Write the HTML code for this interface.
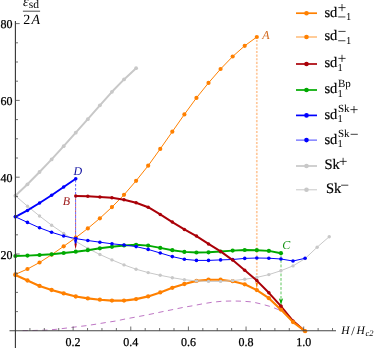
<!DOCTYPE html>
<html><head><meta charset="utf-8">
<style>
html,body{margin:0;padding:0;background:#fff;}
body{width:374px;height:348px;overflow:hidden;font-family:"Liberation Serif",serif;}
svg{display:block;font-family:"Liberation Serif",serif;text-rendering:geometricPrecision;will-change:transform;}
</style></head><body>
<svg width="374" height="348" viewBox="0 0 374 348">

<!-- dotted guide lines -->
<path d="M256.8,40 V283" stroke="#ffc89a" stroke-width="1.7" stroke-dasharray="2.1 1.54" fill="none"/>
<path d="M255.4,281.8 L256.8,283 L258.2,281.8 L256.8,289 Z" fill="#ff8000"/>
<path d="M281,255.5 V299.5" stroke="#4cc04c" stroke-width="0.9" stroke-dasharray="2.8 1.7" fill="none"/>
<path d="M75.6,180 V243" stroke="#4040ff" stroke-width="0.8" stroke-dasharray="2.4 1.6" fill="none"/>
<path d="M75.6,198.4 V243" stroke="#c03030" stroke-width="0.8" stroke-dasharray="1.6 2.4" fill="none"/>
<path d="M19.6,330.6 L32.5,330.5 L47.2,330.1 L56.8,329.25 L67,328.0 L76.6,326.8 L86.8,325.6 L96.5,324.1 L106,322.5 L115.8,321.0 L125.7,318.9 L135,317.2 L144.8,315.35 L154.4,313.4 L164.1,311.3 L173.7,309.4 L183.6,307.3 L193.7,305.6 L202.2,303.9 L212.6,302.2 L222.6,301.2 L232.7,301.0 L242.8,301.2 L252.3,301.95 L261.8,304.1 L271.5,306.85 L280.6,310.5 L287.5,315.9 L296.3,323.3 L305,331.2" fill="none" stroke="#a848b0" stroke-width="0.75" stroke-dasharray="5.3 4.5" stroke-dashoffset="-3"/>
<path d="M280.94,306.1 L293.01,320.8 L305.08,331.2" fill="none" stroke="#aa0008" stroke-width="1.8" stroke-linejoin="round"/>
<g fill="#aa0008"><circle cx="280.94" cy="306.1" r="1.6"/><circle cx="293.01" cy="320.8" r="1.6"/><circle cx="305.08" cy="331.2" r="1.6"/></g>
<path d="M15.4,275.1 L27.47,280.5 L39.54,285.9 L51.61,290 L63.68,293.4 L75.75,296.5 L87.82,298.4 L99.89,299.7 L111.96,300.6 L124.03,300.6 L136.1,299.1 L148.17,296.4 L160.24,292.4 L172.31,287.8 L184.38,284.0 L196.45,280.9 L208.52,279.7 L220.59,279.7 L232.66,281.2 L244.73,284.3 L256.8,290.1 L268.87,298.2 L280.94,309.6 L293.01,322.1 L305.08,331.2" fill="none" stroke="#ff8000" stroke-width="2.15" stroke-linejoin="round"/>
<g fill="#ff8000"><circle cx="15.4" cy="275.1" r="2.15"/><circle cx="27.47" cy="280.5" r="2.15"/><circle cx="39.54" cy="285.9" r="2.15"/><circle cx="51.61" cy="290" r="2.15"/><circle cx="63.68" cy="293.4" r="2.15"/><circle cx="75.75" cy="296.5" r="2.15"/><circle cx="87.82" cy="298.4" r="2.15"/><circle cx="99.89" cy="299.7" r="2.15"/><circle cx="111.96" cy="300.6" r="2.15"/><circle cx="124.03" cy="300.6" r="2.15"/><circle cx="136.1" cy="299.1" r="2.15"/><circle cx="148.17" cy="296.4" r="2.15"/><circle cx="160.24" cy="292.4" r="2.15"/><circle cx="172.31" cy="287.8" r="2.15"/><circle cx="184.38" cy="284.0" r="2.15"/><circle cx="196.45" cy="280.9" r="2.15"/><circle cx="208.52" cy="279.7" r="2.15"/><circle cx="220.59" cy="279.7" r="2.15"/><circle cx="232.66" cy="281.2" r="2.15"/><circle cx="244.73" cy="284.3" r="2.15"/><circle cx="256.8" cy="290.1" r="2.15"/><circle cx="268.87" cy="298.2" r="2.15"/><circle cx="280.94" cy="309.6" r="2.15"/><circle cx="293.01" cy="322.1" r="2.15"/><circle cx="305.08" cy="331.2" r="2.15"/></g>
<path d="M15.4,195.7 L27.47,184.3 L39.54,172 L51.61,159.4 L63.68,146.2 L75.75,132.7 L87.82,119.2 L99.89,105.3 L111.96,91.8 L124.03,79.4 L136.1,68.2" fill="none" stroke="#c8c8c8" stroke-width="2.0" stroke-linejoin="round"/>
<g fill="#c8c8c8"><circle cx="15.4" cy="195.7" r="1.9"/><circle cx="27.47" cy="184.3" r="1.9"/><circle cx="39.54" cy="172" r="1.9"/><circle cx="51.61" cy="159.4" r="1.9"/><circle cx="63.68" cy="146.2" r="1.9"/><circle cx="75.75" cy="132.7" r="1.9"/><circle cx="87.82" cy="119.2" r="1.9"/><circle cx="99.89" cy="105.3" r="1.9"/><circle cx="111.96" cy="91.8" r="1.9"/><circle cx="124.03" cy="79.4" r="1.9"/><circle cx="136.1" cy="68.2" r="1.9"/></g>
<path d="M15.4,195.7 L27.47,206.2 L39.54,216 L51.61,225.2 L63.68,233.4 L75.75,241.4 L87.82,248.4 L99.89,254.5 L111.96,259.9 L124.03,264.9 L136.1,269.2 L148.17,272.6 L160.24,275.3 L172.31,277.7 L184.38,279.7 L196.45,280.9 L208.52,281.4 L220.59,281.4 L232.66,280.6 L244.73,279.3 L256.8,277.4 L268.87,274.6 L280.94,270.7 L293.01,265.9 L305.08,258.6 L317.15,247.2 L329.22,236.7" fill="none" stroke="#c8c8c8" stroke-width="1.0" stroke-linejoin="round"/>
<g fill="#c8c8c8"><circle cx="15.4" cy="195.7" r="1.7"/><circle cx="27.47" cy="206.2" r="1.7"/><circle cx="39.54" cy="216" r="1.7"/><circle cx="51.61" cy="225.2" r="1.7"/><circle cx="63.68" cy="233.4" r="1.7"/><circle cx="75.75" cy="241.4" r="1.7"/><circle cx="87.82" cy="248.4" r="1.7"/><circle cx="99.89" cy="254.5" r="1.7"/><circle cx="111.96" cy="259.9" r="1.7"/><circle cx="124.03" cy="264.9" r="1.7"/><circle cx="136.1" cy="269.2" r="1.7"/><circle cx="148.17" cy="272.6" r="1.7"/><circle cx="160.24" cy="275.3" r="1.7"/><circle cx="172.31" cy="277.7" r="1.7"/><circle cx="184.38" cy="279.7" r="1.7"/><circle cx="196.45" cy="280.9" r="1.7"/><circle cx="208.52" cy="281.4" r="1.7"/><circle cx="220.59" cy="281.4" r="1.7"/><circle cx="232.66" cy="280.6" r="1.7"/><circle cx="244.73" cy="279.3" r="1.7"/><circle cx="256.8" cy="277.4" r="1.7"/><circle cx="268.87" cy="274.6" r="1.7"/><circle cx="280.94" cy="270.7" r="1.7"/><circle cx="293.01" cy="265.9" r="1.7"/><circle cx="305.08" cy="258.6" r="1.7"/><circle cx="317.15" cy="247.2" r="1.7"/><circle cx="329.22" cy="236.7" r="1.7"/></g>
<path d="M15.4,274.4 L27.47,269 L39.54,262.5 L51.61,254.7 L63.68,246.3 L75.75,237.7 L87.82,228.4 L99.89,218.3 L111.96,207.1 L124.03,194.8 L136.1,180.8 L148.17,165.7 L160.24,148.9 L172.31,131.7 L184.38,114.4 L196.45,97.9 L208.52,82.9 L220.59,69 L232.66,56.5 L244.73,45.8 L256.8,37" fill="none" stroke="#ff8000" stroke-width="1.0" stroke-linejoin="round"/>
<g fill="#ff8000"><circle cx="15.4" cy="274.4" r="2.1"/><circle cx="27.47" cy="269" r="2.1"/><circle cx="39.54" cy="262.5" r="2.1"/><circle cx="51.61" cy="254.7" r="2.1"/><circle cx="63.68" cy="246.3" r="2.1"/><circle cx="75.75" cy="237.7" r="2.1"/><circle cx="87.82" cy="228.4" r="2.1"/><circle cx="99.89" cy="218.3" r="2.1"/><circle cx="111.96" cy="207.1" r="2.1"/><circle cx="124.03" cy="194.8" r="2.1"/><circle cx="136.1" cy="180.8" r="2.1"/><circle cx="148.17" cy="165.7" r="2.1"/><circle cx="160.24" cy="148.9" r="2.1"/><circle cx="172.31" cy="131.7" r="2.1"/><circle cx="184.38" cy="114.4" r="2.1"/><circle cx="196.45" cy="97.9" r="2.1"/><circle cx="208.52" cy="82.9" r="2.1"/><circle cx="220.59" cy="69" r="2.1"/><circle cx="232.66" cy="56.5" r="2.1"/><circle cx="244.73" cy="45.8" r="2.1"/><circle cx="256.8" cy="37" r="2.1"/></g>
<path d="M15.4,256.0 L27.47,255.6 L39.54,255 L51.61,254.3 L63.68,253 L75.75,251.7 L87.82,250.2 L99.89,248.3 L111.96,246.8 L124.03,245.5 L136.1,244.8 L148.17,245.6 L160.24,247.9 L172.31,250.2 L184.38,251.9 L196.45,252.5 L208.52,252.3 L220.59,251.5 L232.66,250.6 L244.73,250 L256.8,250.2 L268.87,250.9 L280.94,253.2" fill="none" stroke="#00aa00" stroke-width="1.9" stroke-linejoin="round"/>
<g fill="#00aa00"><circle cx="15.4" cy="256.0" r="2.1"/><circle cx="27.47" cy="255.6" r="2.1"/><circle cx="39.54" cy="255" r="2.1"/><circle cx="51.61" cy="254.3" r="2.1"/><circle cx="63.68" cy="253" r="2.1"/><circle cx="75.75" cy="251.7" r="2.1"/><circle cx="87.82" cy="250.2" r="2.1"/><circle cx="99.89" cy="248.3" r="2.1"/><circle cx="111.96" cy="246.8" r="2.1"/><circle cx="124.03" cy="245.5" r="2.1"/><circle cx="136.1" cy="244.8" r="2.1"/><circle cx="148.17" cy="245.6" r="2.1"/><circle cx="160.24" cy="247.9" r="2.1"/><circle cx="172.31" cy="250.2" r="2.1"/><circle cx="184.38" cy="251.9" r="2.1"/><circle cx="196.45" cy="252.5" r="2.1"/><circle cx="208.52" cy="252.3" r="2.1"/><circle cx="220.59" cy="251.5" r="2.1"/><circle cx="232.66" cy="250.6" r="2.1"/><circle cx="244.73" cy="250" r="2.1"/><circle cx="256.8" cy="250.2" r="2.1"/><circle cx="268.87" cy="250.9" r="2.1"/><circle cx="280.94" cy="253.2" r="2.1"/></g>
<path d="M15.4,216.8 L27.47,222.4 L39.54,227.8 L51.61,232.3 L63.68,236.0 L75.75,238.6 L87.82,240.5 L99.89,242.2 L111.96,243.8 L124.03,245.0 L136.1,246.6 L148.17,249.4 L160.24,253.0 L172.31,256.6 L184.38,259.3 L196.45,260.4 L208.52,260.4 L220.59,259.9 L232.66,259.5 L244.73,258.4 L256.8,258 L268.87,258.2 L280.94,259.0 L293.01,261.0 L305.08,258.3" fill="none" stroke="#0000ff" stroke-width="1.0" stroke-linejoin="round"/>
<g fill="#0000ff"><circle cx="15.4" cy="216.8" r="1.8"/><circle cx="27.47" cy="222.4" r="1.8"/><circle cx="39.54" cy="227.8" r="1.8"/><circle cx="51.61" cy="232.3" r="1.8"/><circle cx="63.68" cy="236.0" r="1.8"/><circle cx="75.75" cy="238.6" r="1.8"/><circle cx="87.82" cy="240.5" r="1.8"/><circle cx="99.89" cy="242.2" r="1.8"/><circle cx="111.96" cy="243.8" r="1.8"/><circle cx="124.03" cy="245.0" r="1.8"/><circle cx="136.1" cy="246.6" r="1.8"/><circle cx="148.17" cy="249.4" r="1.8"/><circle cx="160.24" cy="253.0" r="1.8"/><circle cx="172.31" cy="256.6" r="1.8"/><circle cx="184.38" cy="259.3" r="1.8"/><circle cx="196.45" cy="260.4" r="1.8"/><circle cx="208.52" cy="260.4" r="1.8"/><circle cx="220.59" cy="259.9" r="1.8"/><circle cx="232.66" cy="259.5" r="1.8"/><circle cx="244.73" cy="258.4" r="1.8"/><circle cx="256.8" cy="258" r="1.8"/><circle cx="268.87" cy="258.2" r="1.8"/><circle cx="280.94" cy="259.0" r="1.8"/><circle cx="293.01" cy="261.0" r="1.8"/><circle cx="305.08" cy="258.3" r="1.8"/></g>
<path d="M15.4,216.8 L27.47,210.4 L39.54,203.0 L51.61,195.3 L63.68,187.0 L75.75,178.7" fill="none" stroke="#0000ff" stroke-width="1.9" stroke-linejoin="round"/>
<g fill="#0000ff"><circle cx="15.4" cy="216.8" r="1.75"/><circle cx="27.47" cy="210.4" r="1.75"/><circle cx="39.54" cy="203.0" r="1.75"/><circle cx="51.61" cy="195.3" r="1.75"/><circle cx="63.68" cy="187.0" r="1.75"/><circle cx="75.75" cy="178.7" r="1.75"/></g>
<path d="M75.75,195.9 L87.82,196.2 L99.89,196.9 L111.96,197.8 L124.03,199.7 L136.1,202.8 L148.17,207.2 L160.24,214.4 L172.31,222.1 L184.38,229.4 L196.45,236.1 L208.52,243.9 L220.59,251.4 L232.66,260.1 L244.73,270.3 L256.8,280.6 L268.87,292.8 L280.94,306.1" fill="none" stroke="#aa0008" stroke-width="2.0" stroke-linejoin="round"/>
<g fill="#aa0008"><circle cx="75.75" cy="195.9" r="1.75"/><circle cx="87.82" cy="196.2" r="1.75"/><circle cx="99.89" cy="196.9" r="1.75"/><circle cx="111.96" cy="197.8" r="1.75"/><circle cx="124.03" cy="199.7" r="1.75"/><circle cx="136.1" cy="202.8" r="1.75"/><circle cx="148.17" cy="207.2" r="1.75"/><circle cx="160.24" cy="214.4" r="1.75"/><circle cx="172.31" cy="222.1" r="1.75"/><circle cx="184.38" cy="229.4" r="1.75"/><circle cx="196.45" cy="236.1" r="1.75"/><circle cx="208.52" cy="243.9" r="1.75"/><circle cx="220.59" cy="251.4" r="1.75"/><circle cx="232.66" cy="260.1" r="1.75"/><circle cx="244.73" cy="270.3" r="1.75"/><circle cx="256.8" cy="280.6" r="1.75"/><circle cx="268.87" cy="292.8" r="1.75"/><circle cx="280.94" cy="306.1" r="1.75"/></g>
<path d="M9.5,330.8 H336" stroke="#444" stroke-width="1.1" fill="none"/>
<path d="M15.4,21 V348" stroke="#333" stroke-width="1.1" fill="none"/>
<path d="M29.91,330.8 v-2.8 M44.32,330.8 v-2.8 M58.73,330.8 v-2.8 M73.14,330.8 v-4.3 M87.55,330.8 v-2.8 M101.96,330.8 v-2.8 M116.37,330.8 v-2.8 M130.78,330.8 v-4.3 M145.19,330.8 v-2.8 M159.60,330.8 v-2.8 M174.01,330.8 v-2.8 M188.42,330.8 v-4.3 M202.83,330.8 v-2.8 M217.24,330.8 v-2.8 M231.65,330.8 v-2.8 M246.06,330.8 v-4.3 M260.47,330.8 v-2.8 M274.88,330.8 v-2.8 M289.29,330.8 v-2.8 M303.70,330.8 v-4.3 M318.11,330.8 v-2.8 M332.52,330.8 v-2.8 M15.4,311.60 h2.6 M15.4,292.40 h2.6 M15.4,273.20 h2.6 M15.4,254.00 h4.3 M15.4,234.80 h2.6 M15.4,215.60 h2.6 M15.4,196.40 h2.6 M15.4,177.20 h4.3 M15.4,158.00 h2.6 M15.4,138.80 h2.6 M15.4,119.60 h2.6 M15.4,100.40 h4.3 M15.4,81.20 h2.6 M15.4,62.00 h2.6 M15.4,42.80 h2.6 M15.4,23.60 h4.3" stroke="#4a4a4a" stroke-width="0.8" fill="none"/>
<!-- arrow heads -->
<path d="M278.9,298.2 L281,299.8 L283.1,298.2 L281,305 Z" fill="#00aa00"/>
<path d="M74.1,240 L77.1,240 L75.6,246.5 Z" fill="#0000ff"/>
<path d="M74.4,243.5 L76.8,243.5 L75.6,249.6 Z" fill="#aa0008"/>
<!-- point labels -->
<g font-style="italic" font-size="12">
<text x="262.3" y="38.9" fill="#d2691e">A</text>
<text x="62.8" y="204.8" fill="#a02020">B</text>
<text x="282.2" y="249" fill="#109010">C</text>
<text x="73.4" y="175.4" fill="#1010a0">D</text>
</g>
<!-- axis labels -->
<text x="12.4" y="28.400000000000002" font-size="12" text-anchor="end" stroke="#000" stroke-width="0.25">80</text>
<text x="12.4" y="105.2" font-size="12" text-anchor="end" stroke="#000" stroke-width="0.25">60</text>
<text x="12.4" y="182.0" font-size="12" text-anchor="end" stroke="#000" stroke-width="0.25">40</text>
<text x="12.4" y="258.8" font-size="12" text-anchor="end" stroke="#000" stroke-width="0.25">20</text>
<text x="73.1" y="345.7" font-size="12" text-anchor="middle" stroke="#000" stroke-width="0.25">0.2</text>
<text x="130.8" y="345.7" font-size="12" text-anchor="middle" stroke="#000" stroke-width="0.25">0.4</text>
<text x="188.4" y="345.7" font-size="12" text-anchor="middle" stroke="#000" stroke-width="0.25">0.6</text>
<text x="246.1" y="345.7" font-size="12" text-anchor="middle" stroke="#000" stroke-width="0.25">0.8</text>
<text x="303.7" y="345.7" font-size="12" text-anchor="middle" stroke="#000" stroke-width="0.25">1.0</text>
<text y="334" font-size="11.5" font-style="italic"><tspan x="341.2">H</tspan><tspan x="351.2" font-style="normal" font-size="12.5" dy="0.6">/</tspan><tspan x="356.6" dy="-0.6">H</tspan><tspan x="365.6" font-size="8.5" dy="2">c2</tspan></text>
<!-- y title -->
<text x="23" y="6" font-size="14" font-style="italic">ε</text>
<text x="28.8" y="8.0" font-size="11.5">sd</text>
<path d="M22.9,11.2 H40.1" stroke="#000" stroke-width="0.7"/>
<text x="23.3" y="24" font-size="14">2<tspan font-style="italic" dx="1.1">A</tspan></text>
<!-- legend -->
<path d="M296,13.2 H317" stroke="#ff8000" stroke-width="1.7" stroke-opacity="1.0" fill="none"/>
<circle cx="306.5" cy="13.2" r="2.3" fill="#ff8000"/>
<text x="324.4" y="16.599999999999998" font-size="14.5" stroke="#000" stroke-width="0.2">sd</text>
<path d="M338.4,7.599999999999998 H345.6 M342.0,3.999999999999998 V11.199999999999998" stroke="#000" stroke-width="0.75" fill="none"/>
<path d="M338.2,16.95 H345.40000000000003" stroke="#000" stroke-width="0.75" fill="none"/>
<text x="346.0" y="19.799999999999997" font-size="10.5">1</text>
<path d="M296,37.0 H317" stroke="#ff8000" stroke-width="1.0" stroke-opacity="0.8" fill="none"/>
<circle cx="306.5" cy="37.0" r="2.3" fill="#ff8000"/>
<text x="324.4" y="40.4" font-size="14.5" stroke="#000" stroke-width="0.2">sd</text>
<path d="M338.4,31.4 H345.6" stroke="#000" stroke-width="0.75" fill="none"/>
<path d="M338.2,40.75 H345.40000000000003" stroke="#000" stroke-width="0.75" fill="none"/>
<text x="346.0" y="43.6" font-size="10.5">1</text>
<path d="M296,64.0 H317" stroke="#aa0008" stroke-width="1.7" stroke-opacity="1.0" fill="none"/>
<circle cx="306.5" cy="64.0" r="2.3" fill="#aa0008"/>
<text x="324.4" y="67.4" font-size="14.5" stroke="#000" stroke-width="0.2">sd</text>
<path d="M338.4,58.400000000000006 H345.6 M342.0,54.800000000000004 V62.00000000000001" stroke="#000" stroke-width="0.75" fill="none"/>
<text x="337.6" y="70.5" font-size="10.5">1</text>
<path d="M296,90.0 H317" stroke="#00aa00" stroke-width="1.7" stroke-opacity="1.0" fill="none"/>
<circle cx="306.5" cy="90.0" r="2.3" fill="#00aa00"/>
<text x="324.4" y="93.4" font-size="14.5" stroke="#000" stroke-width="0.2">sd</text>
<text x="337.90000000000003" y="86.60000000000001" font-size="11">Bp</text>
<text x="337.6" y="96.5" font-size="10.5">1</text>
<path d="M296,115.4 H317" stroke="#0000ff" stroke-width="1.7" stroke-opacity="1.0" fill="none"/>
<circle cx="306.5" cy="115.4" r="2.3" fill="#0000ff"/>
<text x="324.4" y="118.80000000000001" font-size="14.5" stroke="#000" stroke-width="0.2">sd</text>
<text x="337.90000000000003" y="112.00000000000001" font-size="11">Sk</text>
<path d="M350.4,109.60000000000001 H357.6 M354.0,106.00000000000001 V113.2" stroke="#000" stroke-width="0.75" fill="none"/>
<text x="337.6" y="121.9" font-size="10.5">1</text>
<path d="M296,140.1 H317" stroke="#0000ff" stroke-width="1.0" stroke-opacity="0.75" fill="none"/>
<circle cx="306.5" cy="140.1" r="2.3" fill="#0000ff"/>
<text x="324.4" y="143.5" font-size="14.5" stroke="#000" stroke-width="0.2">sd</text>
<text x="337.90000000000003" y="136.7" font-size="11">Sk</text>
<path d="M350.6,134.3 H357.80000000000007" stroke="#000" stroke-width="0.75" fill="none"/>
<text x="337.6" y="146.6" font-size="10.5">1</text>
<path d="M296,166.0 H317" stroke="#c8c8c8" stroke-width="1.7" stroke-opacity="1.0" fill="none"/>
<circle cx="306.5" cy="166.0" r="2.3" fill="#c8c8c8"/>
<text x="324.4" y="169.4" font-size="14.5" stroke="#000" stroke-width="0.2">Sk</text>
<path d="M339.49999999999994,161.4 H346.7 M343.09999999999997,157.8 V165.0" stroke="#000" stroke-width="0.75" fill="none"/>
<path d="M296,189.8 H317" stroke="#c8c8c8" stroke-width="1.0" stroke-opacity="1.0" fill="none"/>
<circle cx="306.5" cy="189.8" r="2.3" fill="#c8c8c8"/>
<text x="326" y="193.20000000000002" font-size="14.5" stroke="#000" stroke-width="0.2">Sk</text>
<path d="M341.09999999999997,185.20000000000002 H348.3" stroke="#000" stroke-width="0.75" fill="none"/>
</svg>
</body></html>
